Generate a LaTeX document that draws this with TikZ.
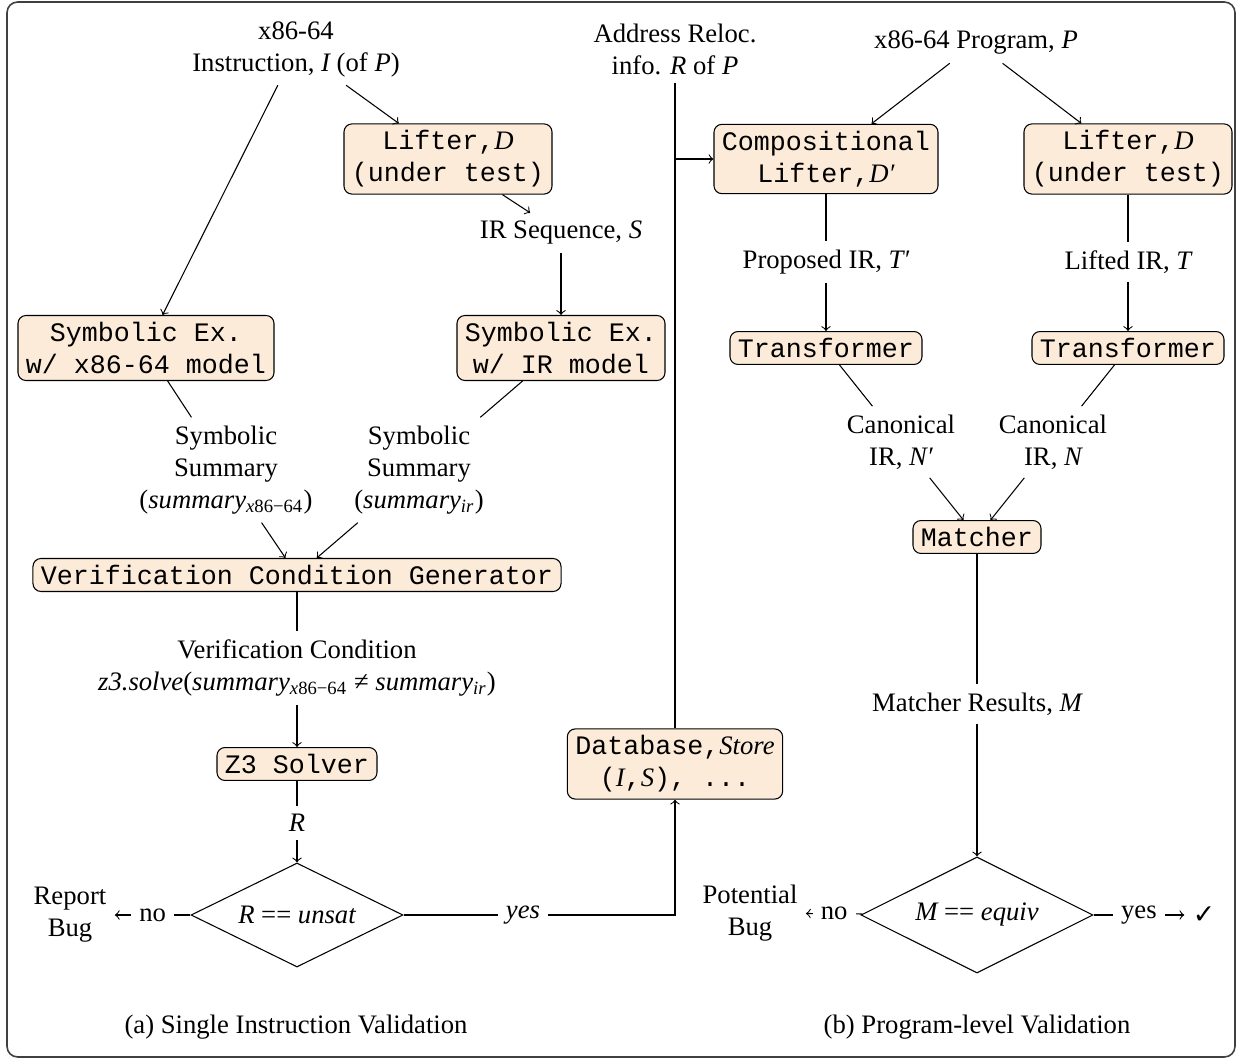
\documentclass[tikz,border=0pt]{standalone}
\usepackage{fontspec}
\setmainfont{Liberation Serif}
\setmonofont{Liberation Mono}
\newfontfamily\dejavu{DejaVu Sans}
\usetikzlibrary{shapes.geometric}
\newcommand\mv[1]{{\rmfamily\itshape #1}}
\definecolor{boxfill}{RGB}{253,235,218}
\begin{document}
\begin{tikzpicture}[x=0.375pt,y=-0.375pt,
  box/.style={draw, rounded corners=3pt, fill=boxfill, font=\ttfamily, align=center, inner xsep=3pt, inner ysep=2.5pt},
  lbl/.style={align=center, inner sep=3pt, font=\rmfamily},
  dia/.style={draw, diamond, aspect=2, inner sep=0pt},
  conn/.style={line width=0.4pt},
  arr/.style={conn, ->}]
\useasboundingbox (0,0) rectangle (1238,1059);
\draw[line width=0.6pt, black!75, rounded corners=4pt] (7,2) rectangle (1235,1057);
% left part
\node[lbl] (inst) at (296,49) {x86-64\\Instruction, \mv{I} (of \mv{P})};
\node[box] (lift1) at (448,159) {Lifter,\mv{D}\\(under test)};
\node[lbl] (irseq) at (561,233) {IR Sequence, \mv{S}};
\node[box] (sx1) at (146,348) {Symbolic Ex.\\w/ x86-64 model};
\node[box] (sx2) at (561,348) {Symbolic Ex.\\w/ IR model};
\node[lbl] (sum1) at (226,470) {Symbolic\\Summary\\(\mv{summary}\textsubscript{\mv{x}86−64})};
\node[lbl] (sum2) at (419,470) {Symbolic\\Summary\\(\mv{summary}\textsubscript{\mv{ir}})};
\node[box] (vcg) at (297,575) {Verification Condition Generator};
\node[lbl] (vc) at (297,668) {Verification Condition\\\mv{z3.solve}(\mv{summary}\textsubscript{\mv{x}86−64} ≠ \mv{summary}\textsubscript{\mv{ir}})};
\node[box] (z3) at (297,764) {Z3 Solver};
\node[lbl] (r) at (297,823) {\mv{R}};
\node[dia, minimum width=79.5pt, minimum height=39pt] (d1) at (297,915) {\mv{R} == \mv{unsat}};
\node[lbl] (rep) at (70,915) {Report\\Bug};
% right part
\node[lbl] (addr) at (675,49) {Address Reloc.\\info. \mv{R} of \mv{P}};
\node[lbl] (prog) at (976,43) {x86-64 Program, \mv{P}};
\node[box] (comp) at (826,159) {Compositional\\Lifter,\mv{D′}};
\node[box] (lift2) at (1128,159) {Lifter,\mv{D}\\(under test)};
\node[lbl] (prop) at (826,262) {Proposed IR, \mv{T′}};
\node[lbl] (lifted) at (1128,262) {Lifted IR, \mv{T}};
\node[box] (tr1) at (826,348) {Transformer};
\node[box] (tr2) at (1128,348) {Transformer};
\node[lbl] (can1) at (901,442) {Canonical\\IR, \mv{N′}};
\node[lbl] (can2) at (1053,442) {Canonical\\IR, \mv{N}};
\node[box] (match) at (977,537) {Matcher};
\node[lbl] (mres) at (977,704) {Matcher Results, \mv{M}};
\node[dia, minimum width=87pt, minimum height=43.5pt] (d2) at (977,915) {\mv{M} == \mv{equiv}};
\node[lbl] (pot) at (750,913) {Potential\\Bug};
\node[lbl, font=\dejavu] (chk) at (1204,915) {✓};
\node[box] (db) at (675,764) {Database,\mv{Store}\\(\mv{I},\mv{S}), ...};
\node[lbl] (capa) at (296,1027) {(a) Single Instruction Validation};
\node[lbl] (capb) at (977,1027) {(b) Program-level Validation};
% connectors left
\draw[arr] (inst) -- (sx1);
\draw[arr] (inst) -- (lift1);
\draw[arr] (lift1) -- (irseq);
\draw[arr] (irseq) -- (sx2);
\draw[conn] (sx1) -- (sum1);
\draw[conn] (sx2) -- (sum2);
\draw[arr] (sum1) -- (vcg);
\draw[arr] (sum2) -- (vcg);
\draw[conn] (vcg) -- (vc);
\draw[arr] (vc) -- (z3);
\draw[conn] (z3) -- (r);
\draw[arr] (r) -- (d1);
\draw[arr] (d1) -- node[lbl, fill=white] (no1) {no} (rep);
\draw[arr] (d1) -- node[lbl, fill=white, pos=0.44] (yes1) {\mv{yes}} (d1 -| db) -- (db);
% connectors right
\coordinate (tap) at (addr.south |- comp.west);
\draw[conn] (addr) -- (db);
\draw[arr] (tap) -- (comp.west);
\draw[arr] (prog) -- (comp);
\draw[arr] (prog) -- (lift2);
\draw[conn] (comp) -- (prop);
\draw[arr] (prop) -- (tr1);
\draw[conn] (lift2) -- (lifted);
\draw[arr] (lifted) -- (tr2);
\draw[conn] (tr1) -- (can1);
\draw[conn] (tr2) -- (can2);
\draw[arr] (can1) -- (match);
\draw[arr] (can2) -- (match);
\draw[conn] (match) -- (mres);
\draw[arr] (mres) -- (d2);
\draw[arr] (d2) -- node[lbl, fill=white] (no2) {no} (pot);
\draw[arr] (d2) -- node[lbl, fill=white] (yes2) {yes} (chk);
\end{tikzpicture}
\end{document}
